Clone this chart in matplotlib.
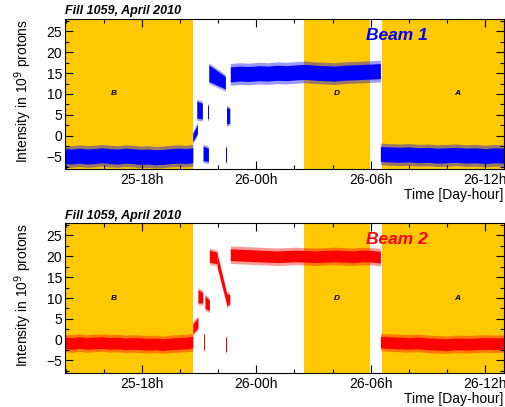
import matplotlib
matplotlib.use("Agg")
import matplotlib.pyplot as plt
from matplotlib.ticker import MultipleLocator, FixedLocator, FixedFormatter
import numpy as np

plt.rcParams['font.family'] = ['Liberation Sans', 'DejaVu Sans']

# time axis: hours since 25-00h
t_range = (13.95, 37.0)
tick_hours = [18, 24, 30, 36]
tick_labels = ["25-18h", "26-00h", "26-06h", "26-12h"]

# shaded periods (start, end, letter, letter position)
periods = [(13.95, 20.66, "B", 16.5), (26.48, 29.98, "D", 28.2), (30.6, 37.0, "A", 34.55)]

# long stable segments: times and centre of the noise band
t_pre = [13.95, 14.3, 14.7, 15.1, 15.5, 15.9, 16.3, 16.7, 17.1, 17.5, 17.9, 18.3,
         18.7, 19.1, 19.5, 19.9, 20.3, 20.66]
t_main = [22.63, 23.1, 23.6, 24.1, 24.6, 25.1, 25.6, 26.1, 26.6, 27.1, 27.6, 28.1,
          28.6, 29.1, 29.6, 30.1, 30.51]
t_post = [30.51, 31.0, 31.5, 32.0, 32.5, 33.0, 33.5, 34.0, 34.5, 35.0, 35.5, 36.0,
          36.5, 37.0]

b1_pre = [-4.9, -5.0, -4.8, -5.0, -4.9, -4.7, -4.9, -5.0, -4.8, -4.9, -5.1, -5.0,
          -5.2, -5.1, -4.9, -4.8, -4.9, -4.7]
b1_main = [14.7, 14.9, 14.8, 15.0, 14.9, 15.1, 15.0, 15.2, 15.3, 15.1, 15.0, 14.9,
           15.1, 15.2, 15.3, 15.4, 15.5]
b1_post = [-4.4, -4.5, -4.6, -4.5, -4.7, -4.6, -4.8, -4.7, -4.6, -4.8, -4.7, -4.9,
           -4.7, -4.8]

b2_pre = [-0.8, -0.9, -0.7, -0.9, -0.8, -0.7, -0.9, -0.8, -1.0, -0.9, -1.0, -1.1,
          -1.0, -1.2, -1.0, -0.9, -0.8, -0.6]
b2_main = [20.4, 20.3, 20.2, 20.1, 20.0, 19.9, 20.0, 20.1, 20.0, 19.9, 20.0, 20.1,
           20.0, 19.9, 20.1, 20.0, 19.8]
b2_post = [-0.6, -0.7, -0.8, -0.9, -0.8, -1.0, -1.1, -1.2, -1.0, -1.1, -1.0, -0.9,
           -1.0, -0.9]

# band half widths (dense core, sparse outer)
b1_spread = (1.8, 2.6)
b2_spread = (1.4, 2.1)

# short injection blobs: t0, t1, lo0, hi0, lo1, hi1
b1_blobs = [(20.66, 20.9, -1.5, 0.5, 0.5, 2.7),
            (20.87, 21.16, 4.2, 8.3, 4.0, 7.8),
            (21.2, 21.48, -6.0, -2.5, -6.2, -3.0),
            (21.47, 21.52, 4.0, 7.0, 4.0, 7.0),
            (21.5, 22.37, 13.0, 17.0, 11.2, 14.2),
            (22.38, 22.44, -6.3, -3.0, -6.3, -3.0),
            (22.43, 22.6, 2.8, 6.8, 3.0, 6.5)]
b2_blobs = [(20.66, 20.93, 1.5, 3.8, 2.8, 5.3),
            (20.93, 21.18, 8.8, 12.0, 8.8, 11.3),
            (21.23, 21.3, -2.5, 1.0, -2.5, 1.0),
            (21.3, 21.53, 7.5, 10.5, 7.0, 9.5),
            (21.53, 21.94, 18.6, 21.5, 18.2, 21.0),
            (21.94, 22.47, 17.5, 20.5, 8.0, 10.5),
            (22.38, 22.48, -3.0, 0.3, -3.0, 0.3),
            (22.43, 22.6, 8.3, 11.0, 8.5, 10.8)]

beams = [("Beam 1", "#0000ff", [b1_pre, b1_main, b1_post], b1_spread, b1_blobs),
         ("Beam 2", "#ff0000", [b2_pre, b2_main, b2_post], b2_spread, b2_blobs)]

fig = plt.figure(figsize=(5.05, 4.07), dpi=100)
W, H = 505.0, 407.0
tops = [19, 223]

for (name, col, centres, spread, blobs), top in zip(beams, tops):
    ax = fig.add_axes([65 / W, 1 - (top + 150) / H, 439 / W, 150 / H])
    for s, e, letter, lx in periods:
        ax.axvspan(s, e, color="#ffc800", lw=0, zorder=0)
        ax.text(lx, 10, letter, fontsize=6, fontweight="bold", style="italic",
                ha="center", va="center", zorder=3)
    for tt, cc in zip([t_pre, t_main, t_post], centres):
        tt = np.array(tt)
        cc = np.array(cc)
        ax.fill_between(tt, cc - spread[1], cc + spread[1], color=col, alpha=0.4,
                        lw=0, zorder=1)
        ax.fill_between(tt, cc - spread[0], cc + spread[0], color=col, lw=0, zorder=2)
    for t0, t1, lo0, hi0, lo1, hi1 in blobs:
        ax.fill_between([t0, t1], [lo0 - 0.5, lo1 - 0.5], [hi0 + 0.5, hi1 + 0.5],
                        color=col, alpha=0.35, lw=0, zorder=1)
        ax.fill_between([t0, t1], [lo0, lo1], [hi0, hi1], color=col, lw=0, zorder=2)

    ax.set_xlim(*t_range)
    ax.set_ylim(-8, 28)
    ax.xaxis.set_major_locator(FixedLocator(tick_hours))
    ax.xaxis.set_major_formatter(FixedFormatter(tick_labels))
    ax.xaxis.set_minor_locator(MultipleLocator(2))
    ax.yaxis.set_major_locator(MultipleLocator(5))
    ax.yaxis.set_minor_locator(MultipleLocator(2.5))
    ax.tick_params(which="both", direction="in", top=True, right=True,
                   labelsize=10, width=0.8, colors="black")
    ax.tick_params(axis="y", which="major", length=6, pad=2)
    ax.tick_params(axis="x", which="major", length=6, pad=3)
    ax.tick_params(which="minor", length=3)
    for sp in ax.spines.values():
        sp.set_linewidth(0.8)
        sp.set_zorder(4)

    ax.text(0.0, 1.01, "Fill 1059, April 2010", transform=ax.transAxes,
            fontsize=9, fontweight="bold", style="italic", ha="left", va="bottom")
    ax.text(0.756, 0.893, name, transform=ax.transAxes, color=col,
            fontsize=12.5, fontweight="bold", style="italic",
            ha="center", va="center", zorder=5)
    fig.text(503 / W, 1 - (top + 176) / H, "Time [Day-hour]", fontsize=10,
             ha="right", va="center")
    fig.text(23 / W, 1 - (top + 72) / H, "Intensity in 10$^9$ protons",
             fontsize=10, rotation=90, ha="center", va="center")

fig.savefig("out.png", dpi=100)
